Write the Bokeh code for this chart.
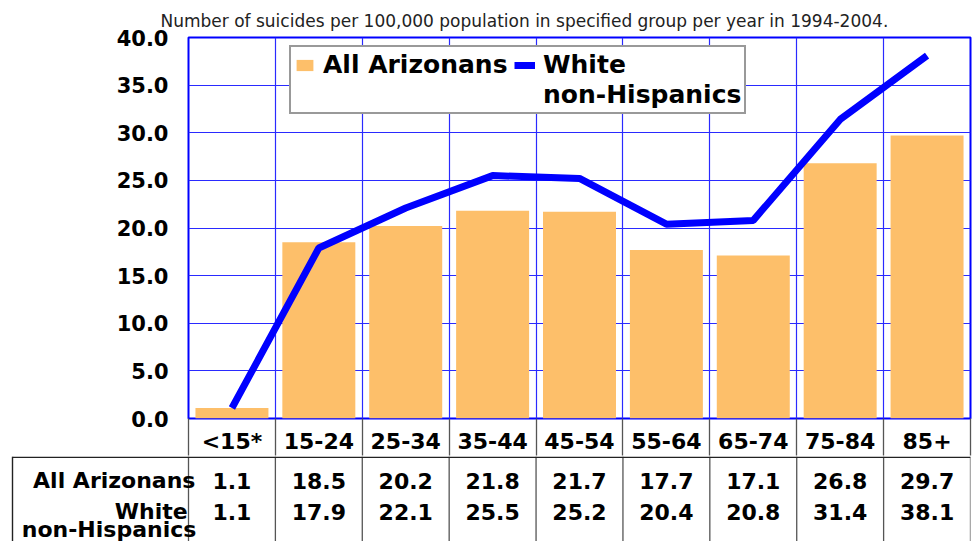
from bokeh.plotting import figure
from bokeh.layouts import column
from bokeh.models import (Range1d, FixedTicker, NumeralTickFormatter, Legend, LegendItem,
                          ColumnDataSource, Title)
from bokeh.core.properties import value
from bokeh.embed import file_html
from bokeh.resources import INLINE

# ---- data ----
categories = ["<15*", "15-24", "25-34", "35-44", "45-54", "55-64", "65-74", "75-84", "85+"]
all_arizonans = [1.1, 18.5, 20.2, 21.8, 21.7, 17.7, 17.1, 26.8, 29.7]
white_non_hispanics = [1.1, 17.9, 22.1, 25.5, 25.2, 20.4, 20.8, 31.4, 38.1]
series_names = ["All Arizonans", "White\nnon-Hispanics"]
y_ticks = [0, 5, 10, 15, 20, 25, 30, 35, 40]
title_text = "Number of suicides per 100,000 population in specified group per year in 1994-2004."

FONT = "DejaVu Sans"
BAR_COLOR = "#FDBF6A"
LINE_COLOR = "#0000FF"
GRID_COLOR = "#2a2aff"
TABLE_LINE = "#555555"

xs = list(range(len(categories)))
bounds = [i - 0.5 for i in range(len(categories) + 1)]
src = ColumnDataSource(dict(x=xs, cat=categories, a=all_arizonans, w=white_non_hispanics,
                            a_txt=["%.1f" % v for v in all_arizonans],
                            w_txt=["%.1f" % v for v in white_non_hispanics]))

# ---- chart figure (with the category row as its x axis) ----
ROW = 37  # height of the category row under the chart
pa = figure(width=972, height=456, output_backend="svg", toolbar_location=None,
            x_range=Range1d(-0.5, len(categories) - 0.5), y_range=Range1d(0, 40),
            min_border_left=188, min_border_right=2, min_border_top=37, min_border_bottom=ROW)
pa.frame_align = False
pa.title = Title(text=title_text, align="left", offset=-28, standoff=13,
                 text_font=FONT, text_font_size="17px", text_font_style="normal",
                 text_line_height=1.0, text_color="#222222")

pa.xaxis.ticker = FixedTicker(ticks=xs, minor_ticks=bounds)
pa.xaxis.major_label_overrides = {i: c for i, c in zip(xs, categories)}
pa.xaxis.major_label_text_font = FONT
pa.xaxis.major_label_text_font_size = "22px"
pa.xaxis.major_label_text_font_style = "bold"
pa.xaxis.major_label_text_color = "black"
pa.xaxis.major_label_text_line_height = 1.0
pa.xaxis.major_label_standoff = -ROW + 10
pa.xaxis.major_tick_line_color = None
pa.xaxis.minor_tick_in = 0
pa.xaxis.minor_tick_out = ROW
pa.xaxis.minor_tick_line_color = TABLE_LINE
pa.xaxis.minor_tick_line_width = 1.3
pa.xaxis.axis_line_color = None

pa.yaxis.ticker = FixedTicker(ticks=y_ticks)
pa.yaxis.formatter = NumeralTickFormatter(format="0.0")
pa.yaxis.major_label_text_font = FONT
pa.yaxis.major_label_text_font_size = "21px"
pa.yaxis.major_label_text_font_style = "bold"
pa.yaxis.major_label_text_color = "black"
pa.yaxis.major_label_standoff = 14
pa.yaxis.major_tick_line_color = None
pa.yaxis.minor_tick_line_color = None
pa.yaxis.axis_line_color = None
pa.ygrid.ticker = FixedTicker(ticks=y_ticks)
pa.ygrid.grid_line_color = GRID_COLOR
pa.ygrid.grid_line_width = 1.2
pa.xgrid.ticker = FixedTicker(ticks=bounds[1:-1])
pa.xgrid.grid_line_color = GRID_COLOR
pa.xgrid.grid_line_width = 1.2
pa.outline_line_color = LINE_COLOR
pa.outline_line_width = 2

bars = pa.vbar(x="x", top="a", width=0.84, source=src, fill_color=BAR_COLOR, line_color=None)
line = pa.line(x="x", y="w", source=src, line_color=LINE_COLOR, line_width=7)
# invisible placeholders so the legend's second row (second line of a label) lines up
blank = pa.scatter(x=[], y=[], fill_alpha=0, line_alpha=0)

name_lines = series_names[1].split("\n")
legend = Legend(items=[LegendItem(label=series_names[0], renderers=[bars]),
                       LegendItem(label=name_lines[0], renderers=[line]),
                       LegendItem(label=" ", renderers=[blank]),
                       LegendItem(label=name_lines[1], renderers=[blank])],
                orientation="horizontal", ncols=2, location=(101, 304),
                label_text_font=FONT, label_text_font_size="25px", label_text_font_style="bold",
                label_text_color="black", label_standoff=8, label_width=190,
                glyph_width=21, glyph_height=14,
                spacing=1, padding=3, margin=0,
                border_line_color="#333333", border_line_width=2,
                background_fill_color="white", background_fill_alpha=1)
pa.add_layout(legend, "center")

# ---- value table figure ----
px_per_cat = (970 - 188) / len(categories)
x_left = -0.5 - (188 - 10) / px_per_cat
H = 85
pb = figure(width=972, height=H, output_backend="svg", toolbar_location=None,
            x_range=Range1d(x_left, len(categories) - 0.5), y_range=Range1d(H, 0),
            min_border_left=10, min_border_right=2, min_border_top=0, min_border_bottom=0)
pb.frame_align = False
pb.axis.visible = False
pb.grid.visible = False
pb.outline_line_color = None

pb.segment(x0=bounds, x1=bounds, y0=[0] * len(bounds), y1=[H] * len(bounds),
           line_color=TABLE_LINE, line_width=1.3)
x_tab_left = -0.5 - (188 - 12) / px_per_cat
pb.segment(x0=[x_tab_left, x_tab_left], x1=[len(categories) - 0.5, x_tab_left],
           y0=[0.7, 0], y1=[0.7, H], line_color="#222222", line_width=1.4)

txt_kw = dict(text_font=value(FONT), text_font_size="22px", text_font_style="bold",
              text_color="black", text_align="center", text_baseline="alphabetic")
pb.text(x="x", y=24, text="a_txt", source=src, **txt_kw)
pb.text(x="x", y=55, text="w_txt", source=src, **txt_kw)

row_lines = [series_names[0]] + name_lines
row_x = [-0.42, -0.51, -0.41]
row_y = [24, 55, 73]
lab_kw = dict(txt_kw)
lab_kw["text_align"] = "right"
lab_kw["text_line_height"] = 1.0
pb.text(x=row_x, y=row_y, text=row_lines, **lab_kw)

layout = column(pa, pb, spacing=0)
open("out.html", "w").write(file_html(layout, INLINE))
